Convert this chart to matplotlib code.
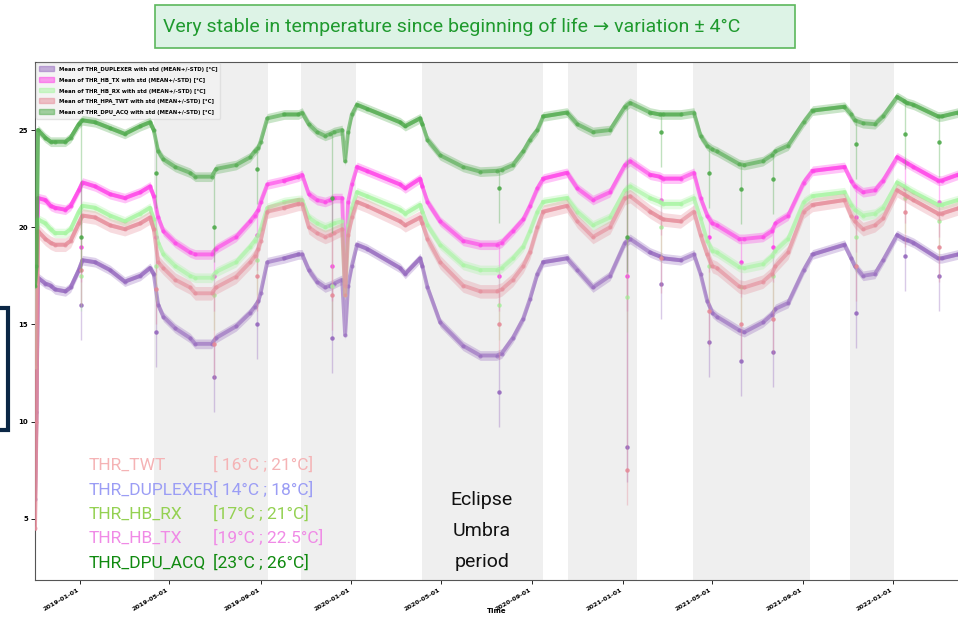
import matplotlib
matplotlib.use("Agg")
import matplotlib.pyplot as plt
import matplotlib.patches as mpatches
import matplotlib.dates as mdates
import numpy as np
import pandas as pd

# mean temperature per date (°C)
dates = [
    "2018-11-01", "2018-11-03", "2018-11-05", "2018-11-15", "2018-11-22", "2018-11-28",
    "2018-12-12", "2018-12-19", "2018-12-30", "2019-01-04", "2019-01-21",
    "2019-02-10", "2019-03-02", "2019-03-23", "2019-04-05", "2019-04-10", "2019-04-16",
    "2019-04-23", "2019-05-09", "2019-05-29", "2019-06-05", "2019-06-27",
    "2019-07-03", "2019-07-30", "2019-08-18", "2019-08-24", "2019-08-29", "2019-09-01",
    "2019-09-10", "2019-10-03", "2019-10-22", "2019-10-27",
    "2019-11-05", "2019-11-16", "2019-11-27", "2019-12-04", "2019-12-09", "2019-12-20",
    "2019-12-24", "2019-12-28", "2020-01-02", "2020-01-09", "2020-01-22",
    "2020-03-07", "2020-03-14", "2020-04-03", "2020-04-06", "2020-04-13", "2020-04-30",
    "2020-05-31", "2020-06-23", "2020-07-15", "2020-07-22", "2020-08-06",
    "2020-08-20", "2020-08-29", "2020-09-08", "2020-09-16", "2020-10-18", "2020-11-01",
    "2020-11-22", "2020-12-15", "2021-01-04", "2021-01-11", "2021-02-07",
    "2021-02-20", "2021-02-25", "2021-03-20", "2021-04-07", "2021-04-16", "2021-04-25",
    "2021-05-02", "2021-05-08", "2021-06-07",
    "2021-06-14", "2021-07-09", "2021-07-21", "2021-07-26", "2021-08-12", "2021-09-02",
    "2021-09-14", "2021-10-27", "2021-11-05", "2021-11-10",
    "2021-11-21", "2021-12-07", "2021-12-18", "2022-01-06", "2022-01-15", "2022-01-19",
    "2022-01-28", "2022-03-02", "2022-03-07", "2022-03-29",
]

duplexer = [
    6.0, 10.5, 17.4, 17.1, 17.0, 16.8, 16.7, 16.9, 17.8, 18.3, 18.2,
    17.8, 17.2, 17.5, 17.9, 17.6, 16.0, 15.4, 14.8, 14.3, 14.0, 14.0,
    14.3, 14.9, 15.6, 15.9, 16.2, 16.6, 18.2, 18.4, 18.6, 18.6,
    17.8, 17.2, 16.9, 17.0, 17.1, 17.3, 14.45, 17.0, 18.0, 19.1, 18.9,
    17.9, 17.6, 18.4, 18.0, 16.9, 15.1, 13.9, 13.4, 13.4, 13.5, 14.3,
    15.3, 16.3, 17.6, 18.2, 18.4, 17.8, 16.9, 17.5, 19.2, 19.4, 18.7,
    18.5, 18.4, 18.3, 18.6, 17.6, 16.2, 15.6, 15.4, 14.7,
    14.6, 15.1, 15.5, 15.8, 16.1, 17.8, 18.6, 19.1, 18.4, 18.0,
    17.5, 17.6, 18.3, 19.6, 19.4, 19.35, 19.2, 18.4, 18.4, 18.6,
]

hb_tx = [
    15.0, 15.3, 21.5, 21.4, 21.1, 21.0, 20.9, 21.1, 21.9, 22.3, 22.1,
    21.7, 21.5, 21.8, 22.1, 21.6, 20.5, 19.8, 19.2, 18.7, 18.6, 18.6,
    18.9, 19.5, 20.3, 20.6, 20.9, 21.3, 22.2, 22.4, 22.6, 22.7,
    21.7, 21.4, 21.3, 21.4, 21.5, 21.5, 17.0, 21.3, 22.2, 23.1, 22.9,
    22.2, 22.0, 22.5, 22.1, 21.3, 20.3, 19.3, 19.1, 19.1, 19.2, 19.8,
    20.4, 21.1, 22.0, 22.5, 22.8, 22.0, 21.4, 21.8, 23.2, 23.4, 22.7,
    22.6, 22.5, 22.5, 22.8, 21.5, 20.6, 20.2, 20.1, 19.4,
    19.4, 19.5, 19.8, 20.2, 20.6, 22.3, 22.9, 23.1, 22.4, 22.1,
    21.8, 21.9, 22.4, 23.6, 23.4, 23.3, 23.1, 22.4, 22.4, 22.7,
]

hb_rx = [
    12.8, 17.5, 20.4, 20.2, 19.9, 19.7, 19.7, 19.9, 20.8, 21.1, 21.0,
    20.6, 20.3, 20.7, 21.0, 20.4, 19.2, 18.6, 18.0, 17.5, 17.4, 17.4,
    17.7, 18.2, 19.0, 19.3, 19.6, 19.9, 21.0, 21.3, 21.4, 21.4,
    20.5, 20.2, 20.0, 20.1, 20.2, 20.3, 16.5, 20.1, 21.0, 21.8, 21.6,
    20.9, 20.7, 21.15, 20.8, 20.1, 19.1, 18.06, 17.8, 17.8, 17.9, 18.4,
    19.0, 19.8, 20.8, 21.3, 21.5, 20.8, 20.1, 20.5, 21.9, 22.1, 21.5,
    21.3, 21.2, 21.2, 21.5, 20.45, 19.3, 18.8, 18.7, 17.95,
    17.9, 18.1, 18.5, 18.8, 19.4, 21.3, 21.6, 21.8, 21.15, 20.9,
    20.6, 20.7, 21.0, 22.3, 22.1, 22.0, 21.8, 21.15, 21.15, 21.4,
]

hpa_twt = [
    4.5, 10.0, 19.8, 19.4, 19.2, 19.1, 19.1, 19.3, 20.2, 20.6, 20.5,
    20.1, 19.9, 20.2, 20.5, 19.9, 18.2, 17.9, 17.3, 16.9, 16.6, 16.6,
    16.9, 17.45, 18.2, 18.5, 18.9, 19.3, 20.8, 21.0, 21.2, 21.2,
    20.0, 19.7, 19.5, 19.6, 19.7, 19.9, 16.5, 19.6, 20.5, 21.3, 21.1,
    20.3, 20.1, 20.5, 20.2, 19.4, 18.2, 17.0, 16.7, 16.7, 16.8, 17.3,
    18.0, 18.7, 20.0, 20.8, 21.1, 20.3, 19.5, 20.0, 21.5, 21.6, 20.8,
    20.5, 20.4, 20.3, 20.8, 19.6, 18.6, 18.0, 17.9, 16.95,
    16.9, 17.2, 17.6, 18.0, 18.7, 20.8, 21.15, 21.4, 20.6, 20.3,
    19.9, 20.1, 20.45, 21.9, 21.7, 21.6, 21.4, 20.7, 20.7, 20.97,
]

dpu_acq = [
    17.0, 18.0, 25.0, 24.6, 24.4, 24.4, 24.4, 24.6, 25.3, 25.5, 25.4,
    25.1, 24.8, 25.2, 25.4, 25.0, 23.9, 23.5, 23.1, 22.8, 22.6, 22.6,
    23.0, 23.2, 23.6, 23.9, 24.1, 24.4, 25.6, 25.8, 25.8, 25.9,
    25.3, 24.9, 24.7, 24.8, 24.9, 25.0, 23.4, 24.9, 25.8, 26.3, 26.1,
    25.4, 25.2, 25.6, 25.3, 24.5, 23.7, 23.1, 22.86, 22.9, 22.95, 23.2,
    23.9, 24.5, 25.0, 25.7, 25.9, 25.3, 24.9, 25.0, 26.2, 26.4, 25.9,
    25.8, 25.8, 25.8, 25.9, 24.7, 24.2, 24.0, 23.9, 23.25,
    23.2, 23.4, 23.7, 23.9, 24.2, 25.4, 26.0, 26.2, 25.8, 25.5,
    25.35, 25.3, 25.7, 26.7, 26.5, 26.4, 26.3, 25.7, 25.7, 25.9,
]

# single-day outliers (drawn as thin spikes with a dot at the mean)
spike_dates = ["2019-01-02", "2019-04-13", "2019-06-30", "2019-08-27", "2019-12-06",
               "2020-07-18", "2021-01-07", "2021-02-22", "2021-04-27", "2021-06-09",
               "2021-07-23", "2021-11-12", "2022-01-17", "2022-03-04"]
spike_duplexer = [16.0, 14.6, 12.3, 15.0, 14.3, 11.5, 8.7, 17.1, 14.1, 13.1, 13.6, 15.6, 18.5, 17.5]
spike_hb_tx = [19.0, 19.5, 17.5, 19.6, 18.0, 17.5, 17.5, 21.4, 19.5, 18.2, 19.0, 20.5, 22.0, 21.3]
spike_hb_rx = [17.5, 18.0, 16.5, 18.3, 17.0, 16.0, 16.4, 20.0, 18.0, 16.9, 17.5, 19.5, 21.5, 20.3]
spike_hpa_twt = [17.8, 16.8, 14.0, 17.5, 16.5, 15.0, 7.5, 18.4, 15.7, 15.0, 15.3, 18.0, 20.8, 19.0]
spike_dpu_acq = [19.5, 22.8, 20.0, 23.0, 21.5, 22.0, 19.5, 24.9, 22.8, 21.95, 22.5, 24.3, 24.8, 24.4]

series_names = ["THR_DUPLEXER", "THR_HB_TX", "THR_HB_RX", "THR_HPA_TWT", "THR_DPU_ACQ"]
series_vals = [duplexer, hb_tx, hb_rx, hpa_twt, dpu_acq]
series_spikes = [spike_duplexer, spike_hb_tx, spike_hb_rx, spike_hpa_twt, spike_dpu_acq]
series_std = [0.25, 0.25, 0.25, 0.35, 0.25]
series_colors = ["#9467bd", "#ff3ee8", "#a6f5a0", "#e58a98", "#4da94a"]

# eclipse (umbra) periods, grey bands
eclipse_start = ["2019-04-10", "2019-10-26", "2020-04-06", "2020-10-20", "2021-04-06", "2021-11-04"]
eclipse_end = ["2019-09-11", "2020-01-08", "2020-09-15", "2021-01-20", "2021-09-11", "2022-01-02"]

tick_dates = ["2019-01-01", "2019-05-01", "2019-09-01", "2020-01-01", "2020-05-01",
              "2020-09-01", "2021-01-01", "2021-05-01", "2021-09-01", "2022-01-01"]

ann_names = ["THR_TWT", "THR_DUPLEXER", "THR_HB_RX", "THR_HB_TX", "THR_DPU_ACQ"]
ann_ranges = ["[ 16°C ; 21°C]", "[ 14°C ; 18°C]", "[17°C ; 21°C]", "[19°C ; 22.5°C]", "[23°C ; 26°C]"]
ann_colors = ["#f5b3b5", "#9b9df5", "#94d152", "#f08ae6", "#108a10"]

t = pd.to_datetime(dates)
tn = mdates.date2num(t)
ts = pd.to_datetime(spike_dates)
tsn = mdates.date2num(ts)

in_ecl = np.zeros(len(t), dtype=bool)
for s, e in zip(eclipse_start, eclipse_end):
    in_ecl |= (t > pd.Timestamp(s)) & (t < pd.Timestamp(e))

W, H = 958, 619
fig = plt.figure(figsize=(W / 100, H / 100), dpi=100)
ax = fig.add_axes([35 / W, 39 / H, (W - 35) / W, 518 / H])

for s, e in zip(eclipse_start, eclipse_end):
    ax.axvspan(pd.Timestamp(s), pd.Timestamp(e), color="#efefef", zorder=0, lw=0)

handles = []
for i, (name, vals, spk, sd, c) in enumerate(zip(series_names, series_vals, series_spikes,
                                                   series_std, series_colors)):
    v = np.array(vals)
    z = 2 + i
    ax.fill_between(t, v - sd, v + sd, color=c, alpha=0.3, lw=0, zorder=z)
    ax.plot(t, v, color=c, lw=2.8, alpha=0.6, marker="o", ms=3, mew=0, zorder=z)
    # darker outside eclipse seasons
    ax.plot(t, np.where(in_ecl, np.nan, v), color=c, lw=2.8, alpha=0.55, zorder=z)
    mean_at = np.interp(tsn, tn, v)
    sp = np.array(spk)
    ax.vlines(ts, sp - 1.8, mean_at, color=c, lw=1.0, alpha=0.35, zorder=z)
    ax.plot(ts, sp, "o", color=c, ms=3.2, mew=0, alpha=0.9, zorder=z)
    handles.append(mpatches.Patch(color=c, alpha=0.5,
                                  label=f"Mean of {name} with std (MEAN+/-STD) [°C]"))

ax.set_xlim(pd.Timestamp("2018-11-01"), pd.Timestamp("2022-03-29"))
ax.set_ylim(1.85, 28.5)
ax.set_yticks([5, 10, 15, 20, 25])
ax.set_xticks(pd.to_datetime(tick_dates))
ax.set_xticklabels(tick_dates, rotation=30, ha="right", fontsize=4.6, fontweight="bold")
for lab in ax.get_yticklabels():
    lab.set_fontsize(5)
    lab.set_fontweight("bold")
ax.tick_params(length=3, width=0.6, pad=2)
ax.set_xlabel("Time", fontsize=5, fontweight="bold")
ax.xaxis.set_label_coords(0.5, -0.055)
ax.spines["right"].set_visible(False)
for sp in ["left", "top", "bottom"]:
    ax.spines[sp].set_linewidth(0.8)
    ax.spines[sp].set_color("#555555")

leg = ax.legend(handles=handles, loc="upper left", frameon=True,
                prop={"size": 3.9, "weight": "bold"}, handlelength=2.8, handleheight=1.0,
                labelspacing=0.85, borderpad=0.6, borderaxespad=0.15)
leg.get_frame().set_facecolor("#f2f2f2")
leg.get_frame().set_edgecolor("#dddddd")

# title banner
fig.add_artist(mpatches.Rectangle((155 / W, 1 - 48 / H), 640 / W, 43 / H,
                                  transform=fig.transFigure, facecolor="#ddf3e6",
                                  edgecolor="#5cb85c", lw=1.2))
fig.text(163 / W, 1 - 27 / H, "Very stable in temperature since beginning of life → variation ± 4°C",
         fontsize=14, color="#1f9a2e", va="center", ha="left", family=["Roboto", "DejaVu Sans"])

# coloured range annotations
row_y = [465, 490, 514, 538, 563]
for name, rng, c, y in zip(ann_names, ann_ranges, ann_colors, row_y):
    fig.text(89 / W, 1 - y / H, name, fontsize=12.5, color=c, va="center", ha="left",
             family=["Roboto", "DejaVu Sans"])
    fig.text(213 / W, 1 - y / H, rng, fontsize=12.5, color=c, va="center", ha="left",
             family=["Roboto", "DejaVu Sans"])

fig.text(482 / W, 1 - 531 / H, "Eclipse\nUmbra\nperiod", fontsize=14, color="#111111",
         va="center", ha="center", linespacing=1.95, family=["Roboto", "DejaVu Sans"])

# slide frame cut at the left edge
fig.add_artist(mpatches.Rectangle((-20 / W, 1 - 430 / H), 28 / W, 122 / H,
                                  transform=fig.transFigure, fill=False,
                                  edgecolor="#0b2745", lw=3))

fig.savefig("out.png", dpi=100)
